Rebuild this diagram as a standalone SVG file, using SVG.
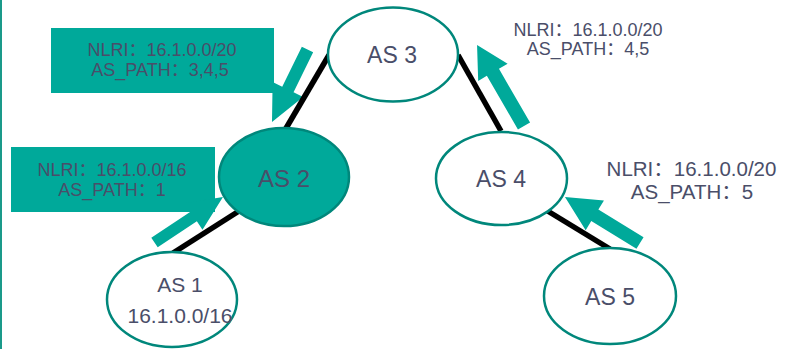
<svg xmlns="http://www.w3.org/2000/svg" width="785" height="349" viewBox="0 0 785 349">
  <style>
    .as { fill: #ffffff; stroke: #00877b; stroke-width: 2.5; }
    .as.sel { fill: #00a99a; }
    .lbl { font-family: "Liberation Sans", "Noto Sans CJK SC", sans-serif; fill: #4a4e69; text-anchor: middle; }
    .box { fill: #00a99a; }
    .push { fill: #00a99a; }
    .link { stroke: #000000; stroke-width: 5.5; stroke-linecap: butt; fill: none; }
  </style>

  <!-- frame edge -->
  <rect x="0" y="0" width="2" height="349" fill="#1a9a8a"/>

  <!-- route advertisement callouts -->
  <g id="adv-3-to-2">
    <rect class="box" x="51" y="28" width="223" height="65"/>
    <text class="lbl" x="162" y="56" font-size="18">NLRI：16.1.0.0/20</text>
    <text class="lbl" x="160" y="76" font-size="18">AS_PATH：3,4,5</text>
  </g>
  <g id="adv-1-to-2">
    <rect class="box" x="11" y="147" width="204" height="65"/>
    <text class="lbl" x="112" y="176" font-size="18">NLRI：16.1.0.0/16</text>
    <text class="lbl" x="112" y="196" font-size="18">AS_PATH：1</text>
  </g>
  <g id="adv-4-to-3">
    <text class="lbl" x="588" y="36" font-size="18">NLRI：16.1.0.0/20</text>
    <text class="lbl" x="588" y="55" font-size="18">AS_PATH：4,5</text>
  </g>
  <g id="adv-5-to-4">
    <text class="lbl" x="691.5" y="176" font-size="20.5">NLRI：16.1.0.0/20</text>
    <text class="lbl" x="692" y="199" font-size="20.5">AS_PATH：5</text>
  </g>

  <!-- block arrows showing direction of each advertisement -->
  <g id="push-arrows">
    <polygon class="push" transform="translate(307.5 49.5) rotate(116.1)"
      points="0,-6.3 44.6,-6.3 44.6,-17 80.7,0 44.6,17 44.6,6.3 0,6.3"/>
    <polygon class="push" transform="translate(524 126) rotate(-120.1)"
      points="0,-7 62,-7 62,-17 93.6,0 62,17 62,7 0,7"/>
    <polygon class="push" transform="translate(154.5 242.5) rotate(-33.6)"
      points="0,-5.8 47,-5.8 47,-16 82.2,0 47,16 47,5.8 0,5.8"/>
    <polygon class="push" transform="translate(640 243) rotate(-148.5)"
      points="0,-6.8 53,-6.8 53,-17.5 88,0 53,17.5 53,6.8 0,6.8"/>
  </g>

  <!-- peering links -->
  <g id="links">
    <line class="link" x1="329" y1="55" x2="285" y2="130"/>
    <line class="link" x1="458" y1="55" x2="501" y2="131"/>
    <line class="link" x1="239" y1="211" x2="173" y2="253"/>
    <line class="link" x1="546" y1="210" x2="610" y2="249"/>
  </g>

  <!-- autonomous systems -->
  <g id="as3">
    <ellipse class="as" cx="393" cy="54.5" rx="65" ry="47"/>
    <text class="lbl" x="392" y="63" font-size="23">AS 3</text>
  </g>
  <g id="as2">
    <ellipse class="as sel" cx="284" cy="177" rx="65" ry="49"/>
    <text class="lbl" x="284" y="187" font-size="24">AS 2</text>
  </g>
  <g id="as4">
    <ellipse class="as" cx="501.5" cy="178.5" rx="65.5" ry="46.5"/>
    <text class="lbl" x="501" y="187" font-size="23">AS 4</text>
  </g>
  <g id="as1">
    <ellipse class="as" cx="172" cy="299.5" rx="65" ry="47.5"/>
    <text class="lbl" x="180" y="292" font-size="21">AS 1</text>
    <text class="lbl" x="180" y="323" font-size="21">16.1.0.0/16</text>
  </g>
  <g id="as5">
    <ellipse class="as" cx="610" cy="296" rx="66" ry="48"/>
    <text class="lbl" x="610" y="305" font-size="23">AS 5</text>
  </g>
</svg>
